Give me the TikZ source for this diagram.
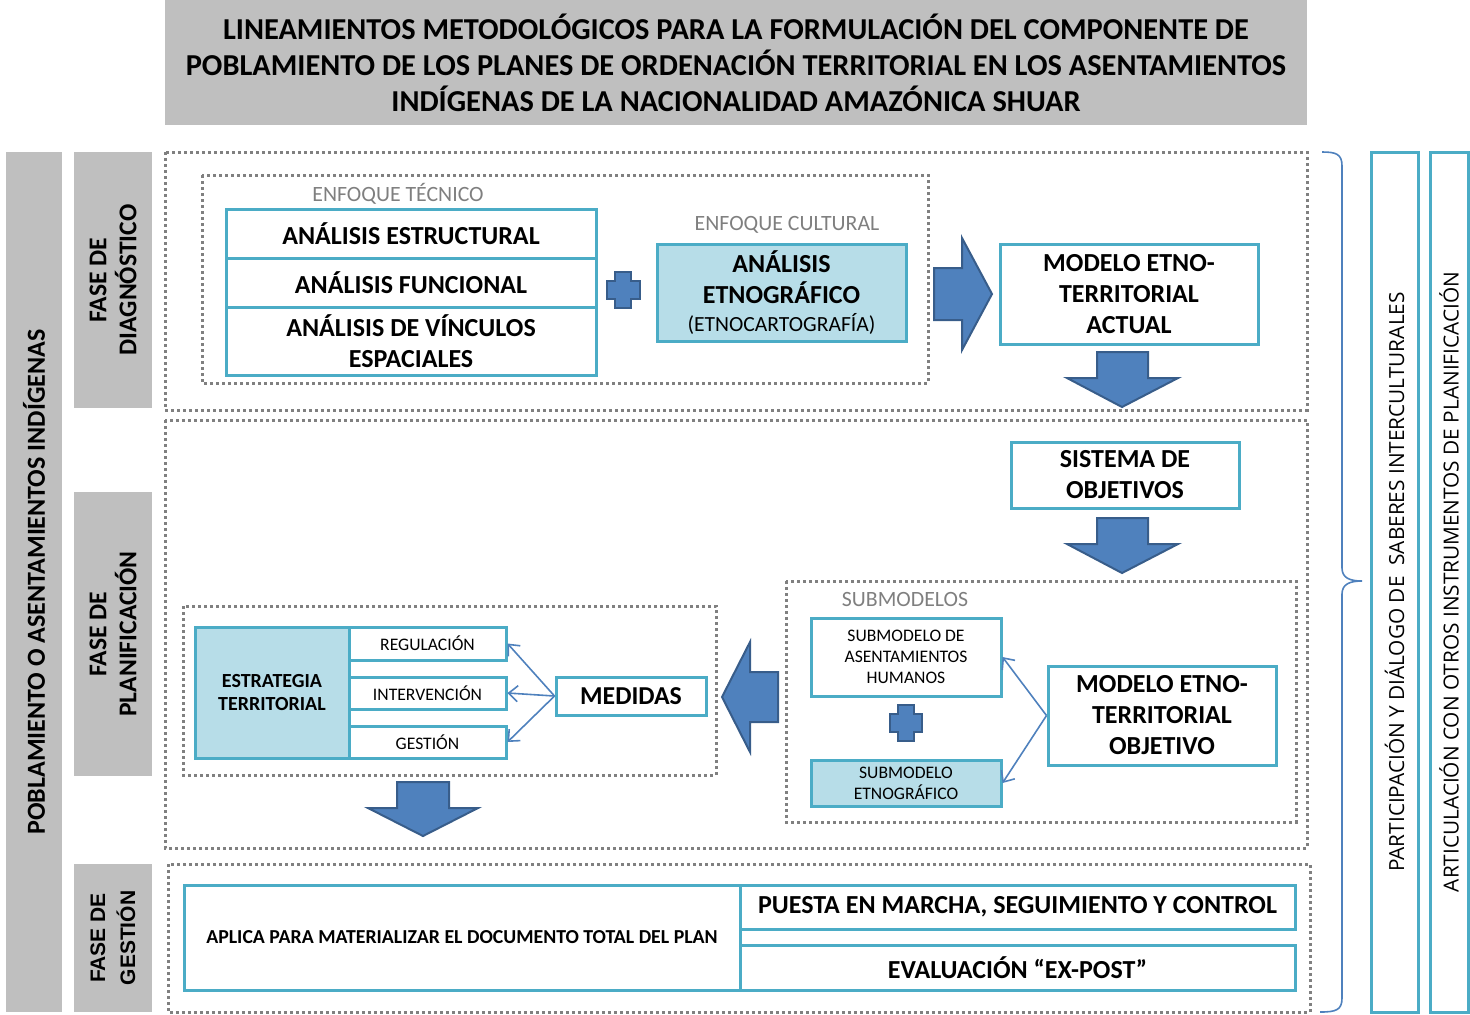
\documentclass[tikz,border=0pt]{standalone}
\usepackage{fontspec}
\setmainfont{Carlito}
\newfontfamily\osans{Open Sans}
\newfontfamily\lsans{Liberation Sans}
\usetikzlibrary{arrows.meta}
\definecolor{grayfill}{HTML}{BFBFBF}
\definecolor{tealb}{HTML}{4BACC6}
\definecolor{lblue}{HTML}{B7DDE8}
\definecolor{arrfill}{HTML}{4F81BD}
\definecolor{arrline}{HTML}{385D8A}
\definecolor{dotgray}{HTML}{808080}
\definecolor{labgray}{HTML}{7F7F7F}
\tikzset{
  graybar/.style={fill=grayfill, draw=none, inner sep=0pt, align=center},
  tbox/.style={draw=tealb, line width=1.5pt, fill=white, inner sep=0pt, align=center},
  fbox/.style={tbox, fill=lblue},
  dotbox/.style={draw=dotgray, line width=1.5pt, dash pattern=on 1.5pt off 1.5pt},
  blockarrow/.style={fill=arrfill, draw=arrline, line width=1pt, line join=miter},
  thinarrow/.style={draw=arrfill, line width=0.8pt, -{Straight Barb[length=4.5pt,width=8pt]}},
  grouplabel/.style={text=labgray, font=\fontsize{10.9}{12}\selectfont, inner sep=0pt},
  bigtxt/.style={font=\bfseries\fontsize{13}{15.5}\selectfont},
}
\begin{document}
\begin{tikzpicture}[x=0.5pt,y=-0.5pt]
\useasboundingbox (0,0) rectangle (1470,1014);

% title
\node[graybar, minimum width=571pt, minimum height=62.5pt,
  font=\bfseries\fontsize{15.2}{18}\selectfont] (title) at (736,62.5)
  {LINEAMIENTOS METODOLÓGICOS PARA LA FORMULACIÓN DEL COMPONENTE DE\\
   POBLAMIENTO DE LOS PLANES DE ORDENACIÓN TERRITORIAL EN LOS ASENTAMIENTOS\\
   INDÍGENAS DE LA NACIONALIDAD AMAZÓNICA SHUAR};

% left bars
\node[graybar, rotate=90, minimum width=430pt, minimum height=28pt,
  font=\bfseries\fontsize{13}{15}\selectfont] (pob) at (34,582)
  {POBLAMIENTO O ASENTAMIENTOS INDÍGENAS};
\node[graybar, rotate=90, minimum width=128pt, minimum height=39pt,
  font=\bfseries\fontsize{12.8}{15}\selectfont] (fd) at (113,280)
  {FASE DE\\DIAGNÓSTICO};
\node[graybar, rotate=90, minimum width=142pt, minimum height=39pt,
  font=\bfseries\fontsize{12.8}{15}\selectfont] (fp) at (113,634)
  {FASE DE\\PLANIFICACIÓN};
\node[graybar, rotate=90, minimum width=74pt, minimum height=39pt,
  font=\lsans\bfseries\fontsize{10.5}{15}\selectfont] (fg) at (113,938)
  {FASE DE\\GESTIÓN};

% dotted frames
\draw[dotbox] (165,152) rectangle (1307,410);
\draw[dotbox] (202,175) rectangle (928,383);
\draw[dotbox] (165,420) rectangle (1307,848);
\draw[dotbox] (786,581) rectangle (1296,822);
\draw[dotbox] (183,606) rectangle (716,775);
\draw[dotbox] (168,864) rectangle (1310,1012);

% group labels
\node[grouplabel] (lt) at (398,194) {ENFOQUE TÉCNICO};
\node[grouplabel] (lc) at (787,225) {ENFOQUE CULTURAL};
\node[grouplabel] (ls) at (905,599) {SUBMODELOS};

% diagnostic boxes
\node[tbox, bigtxt, minimum width=185pt, minimum height=24.5pt] (ae) at (411,233.5) {ANÁLISIS ESTRUCTURAL};
\node[tbox, bigtxt, minimum width=185pt, minimum height=24.5pt] (af) at (411,282.5) {ANÁLISIS FUNCIONAL};
\node[tbox, bigtxt, minimum width=185pt, minimum height=34pt] (av) at (411,341) {ANÁLISIS DE VÍNCULOS\\ESPACIALES};
\node[fbox, bigtxt, minimum width=124.5pt, minimum height=48.5pt] (etn) at (781.5,292.5)
  {ANÁLISIS\\ETNOGRÁFICO\\[-1.5pt]{\mdseries\fontsize{10.8}{12}\selectfont (ETNOCARTOGRAFÍA)}};
\node[tbox, bigtxt, minimum width=129pt, minimum height=50pt] (mea) at (1129,294) {MODELO ETNO-\\TERRITORIAL\\ACTUAL};
\node[tbox, bigtxt, minimum width=114pt, minimum height=33pt] (so) at (1125,475) {SISTEMA DE\\OBJETIVOS};

% plus signs
\draw[blockarrow] (615,272) -- (631,272) -- (631,281) -- (640,281) -- (640,299) -- (631,299)
  -- (631,308) -- (615,308) -- (615,299) -- (607,299) -- (607,281) -- (615,281) -- cycle;
\draw[blockarrow] (898,705) -- (914,705) -- (914,714) -- (922,714) -- (922,732) -- (914,732)
  -- (914,741) -- (898,741) -- (898,732) -- (890,732) -- (890,714) -- (898,714) -- cycle;

% block arrows
\draw[blockarrow] (934,268) -- (962,268) -- (962,238) -- (992,294) -- (962,350) -- (962,320) -- (934,320) -- cycle;
\draw[blockarrow] (1097,352) -- (1148,352) -- (1148,378) -- (1178,378) -- (1122,407) -- (1067,378) -- (1097,378) -- cycle;
\draw[blockarrow] (1097,518) -- (1148,518) -- (1148,544) -- (1178,544) -- (1122,573) -- (1067,544) -- (1097,544) -- cycle;
\draw[blockarrow] (778,672) -- (750,672) -- (750,642) -- (722,697) -- (750,752) -- (750,722) -- (778,722) -- cycle;
\draw[blockarrow] (397,782) -- (449,782) -- (449,808) -- (478,808) -- (423,836) -- (368,808) -- (397,808) -- cycle;

% submodels
\node[tbox, minimum width=95pt, minimum height=39pt, font=\fontsize{8.8}{10.5}\selectfont] (sah) at (906,657)
  {SUBMODELO DE\\ASENTAMIENTOS\\HUMANOS};
\node[fbox, minimum width=95pt, minimum height=23pt, font=\fontsize{8.8}{10.5}\selectfont] (se) at (906,783)
  {SUBMODELO\\ETNOGRÁFICO};
\node[tbox, bigtxt, minimum width=114pt, minimum height=49.5pt] (meo) at (1162,715.5) {MODELO ETNO-\\TERRITORIAL\\OBJETIVO};

% strategy
\node[fbox, minimum width=77pt, minimum height=65.5pt, font=\bfseries\fontsize{10}{11.5}\selectfont] (et) at (272,692.5)
  {ESTRATEGIA\\TERRITORIAL};
\node[tbox, minimum width=78.5pt, minimum height=16.5pt, font=\fontsize{8.8}{10}\selectfont] (reg) at (427.5,643.5) {REGULACIÓN};
\node[tbox, minimum width=78.5pt, minimum height=16pt, font=\fontsize{8.8}{10}\selectfont] (int) at (427.5,693) {INTERVENCIÓN};
\node[tbox, minimum width=78.5pt, minimum height=16pt, font=\fontsize{8.8}{10}\selectfont] (ges) at (427.5,742) {GESTIÓN};
\node[tbox, minimum width=75pt, minimum height=19pt, font=\bfseries\fontsize{12.9}{14}\selectfont] (med) at (631,696) {MEDIDAS};

% thin arrows
\draw[thinarrow] (med.west) -- (reg.east);
\draw[thinarrow] (med.west) -- (int.east);
\draw[thinarrow] (med.west) -- (ges.east);
\draw[thinarrow] (meo.west) -- (sah.east);
\draw[thinarrow] (meo.west) -- (se.east);

% management
\node[tbox, minimum width=278pt, minimum height=52.5pt, font=\bfseries\fontsize{9.9}{11}\selectfont] (apl) at (462,937.5)
  {APLICA PARA MATERIALIZAR EL DOCUMENTO TOTAL DEL PLAN};
\node[tbox, bigtxt, minimum width=277.5pt, minimum height=22pt] (pm) at (1017.5,907) {PUESTA EN MARCHA, SEGUIMIENTO Y CONTROL};
\node[tbox, bigtxt, minimum width=277.5pt, minimum height=22.5pt] (ev) at (1017.5,967.5) {EVALUACIÓN “EX-POST”};

% brace
\draw[draw=arrfill, line width=0.8pt] (1322,152) .. controls (1336,152) and (1342,154) .. (1342,166)
  -- (1342,568) .. controls (1342,578) and (1350,581) .. (1362,581)
  .. controls (1350,581) and (1342,584) .. (1342,594)
  -- (1342,998) .. controls (1342,1010) and (1336,1012) .. (1320,1012);

% right bars
\node[tbox, rotate=90, minimum width=430pt, minimum height=23.5pt, font=\osans\fontsize{10.4}{11}\selectfont] (r1) at (1394.5,582)
  {PARTICIPACIÓN Y DIÁLOGO DE\ \ SABERES INTERCULTURALES};
\node[tbox, rotate=90, minimum width=430pt, minimum height=19pt, font=\osans\fontsize{10.4}{11}\selectfont] (r2) at (1449,582)
  {ARTICULACIÓN CON OTROS INSTRUMENTOS DE PLANIFICACIÓN};
\end{tikzpicture}
\end{document}
